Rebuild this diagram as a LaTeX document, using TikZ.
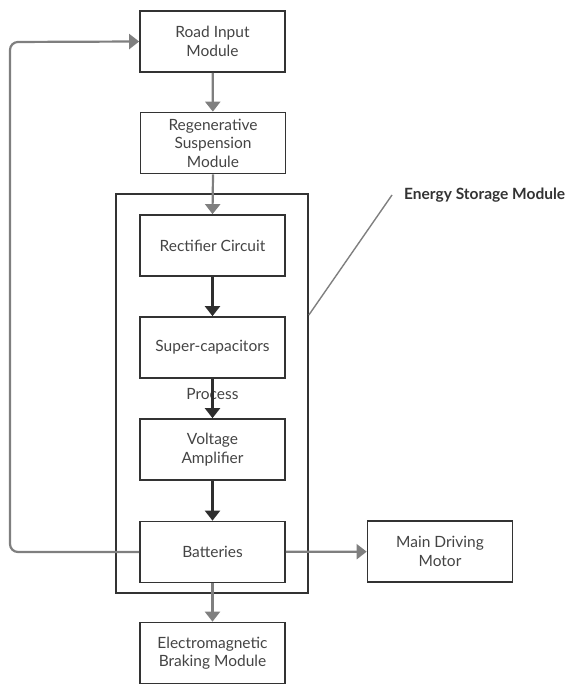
\documentclass[tikz,border=0pt]{standalone}
\usepackage{fontspec}
\setmainfont{Lato}
\usetikzlibrary{arrows.meta,positioning}
\definecolor{boxline}{HTML}{333333}
\definecolor{darkarrow}{HTML}{2E2E2E}
\definecolor{grayarrow}{HTML}{7F7F7F}
\definecolor{txt}{HTML}{444444}
\tikzset{
  blk/.style={draw=boxline, line width=1.7pt, fill=white, minimum width=145pt, minimum height=61pt,
    align=center, font=\fontsize{15.5}{18.5}\selectfont, text=txt, inner sep=0pt},
  grayarr/.style={draw=grayarrow, line width=2.2pt, -{Triangle[length=10pt,width=15pt]}},
  darkarr/.style={draw=darkarrow, line width=2.2pt, -{Triangle[length=10pt,width=15pt]}},
}
\begin{document}
\begin{tikzpicture}[x=1pt,y=-1pt]
\useasboundingbox (0,0) rectangle (569,684);
% outer energy storage box
\node[draw=boxline, line width=1.7pt, minimum width=192pt, minimum height=399pt, inner sep=0pt] (esm) at (212,393.5) {};
\node[blk] (road) at (212.5,41.5) {Road Input\\Module};
\node[blk] (regen) at (213,143) {Regenerative\\Suspension\\Module};
\node[blk] (rect) at (212.5,245.5) {Rectifier Circuit};
\node[blk] (super) at (212.5,347.5) {Super-capacitors};
\node[blk] (volt) at (212.5,449.5) {Voltage\\Amplifier};
\node[blk] (batt) at (212.5,552) {Batteries};
\node[blk] (motor) at (440,551.5) {Main Driving\\Motor};
\node[blk] (em) at (212.5,653) {Electromagnetic\\Braking Module};
% arrows
\draw[grayarr] (road) -- (regen);
\draw[grayarr] (regen.south) -- (rect.north);
\draw[darkarr] (rect) -- (super);
\node[font=\fontsize{15.5}{18.5}\selectfont, text=txt, inner sep=0pt] (proc) at (212.5,394) {Process};
\draw[darkarr] (super) -- (volt);
\draw[darkarr] (volt) -- (batt);
\draw[grayarr] (batt) -- (motor);
\draw[grayarr] (batt) -- (em);
\coordinate (fbl) at (10,552);
\coordinate (fbt) at (10,42);
\draw[grayarr, rounded corners=8pt] (batt.west) -- (fbl) -- (fbt) [sharp corners] -- (road.west);
% leader
\coordinate (lead) at (392,195);
\draw[draw=grayarrow, line width=1.4pt] (esm.east |- 0,315) -- (lead);
\node[anchor=west, font=\bfseries\fontsize{15.5}{18}\selectfont, text=boxline, inner sep=0pt] (esmlabel) at (404,195) {Energy Storage Module};
\end{tikzpicture}
\end{document}
